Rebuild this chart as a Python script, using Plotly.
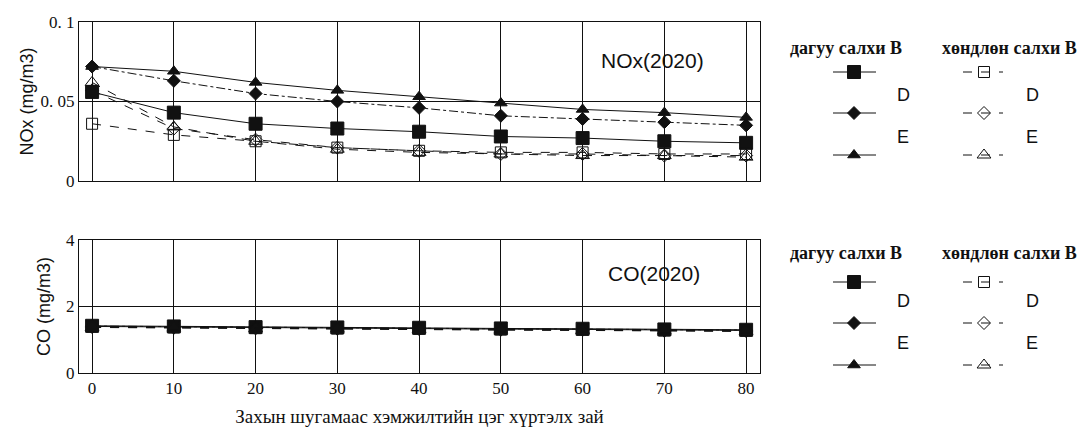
import plotly.graph_objects as go

dist = [0, 10, 20, 30, 40, 50, 60, 70, 80]

# NOx (mg/m3), 2020
nox_along_D_sq = [0.056, 0.043, 0.036, 0.033, 0.031, 0.028, 0.027, 0.025, 0.024]
nox_along_D_di = [0.072, 0.063, 0.055, 0.050, 0.046, 0.041, 0.039, 0.037, 0.035]
nox_along_E_tr = [0.072, 0.069, 0.062, 0.057, 0.053, 0.049, 0.045, 0.043, 0.040]
nox_cross_D_sq = [0.036, 0.029, 0.025, 0.021, 0.019, 0.018, 0.018, 0.017, 0.017]
nox_cross_D_di = [0.057, 0.033, 0.026, 0.021, 0.019, 0.017, 0.017, 0.016, 0.016]
nox_cross_E_tr = [0.062, 0.034, 0.025, 0.020, 0.018, 0.017, 0.016, 0.016, 0.015]

# CO (mg/m3), 2020
co_along_D_sq = [1.42, 1.40, 1.38, 1.37, 1.36, 1.34, 1.33, 1.31, 1.30]
co_along_D_di = [1.41, 1.39, 1.37, 1.36, 1.35, 1.33, 1.32, 1.30, 1.29]
co_along_E_tr = [1.40, 1.38, 1.36, 1.35, 1.34, 1.32, 1.31, 1.29, 1.28]
co_cross_D_sq = [1.39, 1.37, 1.35, 1.34, 1.33, 1.31, 1.30, 1.28, 1.27]
co_cross_D_di = [1.38, 1.36, 1.34, 1.33, 1.32, 1.30, 1.29, 1.27, 1.26]
co_cross_E_tr = [1.37, 1.35, 1.33, 1.32, 1.31, 1.29, 1.28, 1.26, 1.25]

x_ticks = [0, 10, 20, 30, 40, 50, 60, 70, 80]
nox_ticks = [0, 0.05, 0.1]
nox_ticktext = ["0", "0. 05", "0. 1"]
co_ticks = [0, 2, 4]
co_ticktext = ["0", "2", "4"]

hdr_along = "дагуу салхи В"
hdr_cross = "хөндлөн салхи В"
x_title = "Захын шугамаас хэмжилтийн цэг хүртэлх зай"

BLK = "#111111"
series_style = [
    # (symbol, size, dash)
    ("square", 13, "solid"),
    ("diamond", 10, "dashdot"),
    ("triangle-up", 11, "solid"),
    ("square-open", 11, "dash"),
    ("diamond-open", 10, "dash"),
    ("triangle-up-open", 12, "dash"),
]

fig = go.Figure()

nox_series = [nox_along_D_sq, nox_along_D_di, nox_along_E_tr,
              nox_cross_D_sq, nox_cross_D_di, nox_cross_E_tr]
co_series = [co_along_D_sq, co_along_D_di, co_along_E_tr,
             co_cross_D_sq, co_cross_D_di, co_cross_E_tr]

for vals, (sym, sz, dash) in zip(nox_series, series_style):
    fig.add_trace(go.Scatter(x=dist, y=vals, xaxis="x", yaxis="y", mode="lines+markers",
                             line=dict(color=BLK, width=1, dash=dash),
                             marker=dict(symbol=sym, size=sz, color=BLK, line=dict(color=BLK, width=1)),
                             showlegend=False))
for vals, (sym, sz, dash) in zip(co_series, series_style):
    fig.add_trace(go.Scatter(x=dist, y=vals, xaxis="x2", yaxis="y2", mode="lines+markers",
                             line=dict(color=BLK, width=1, dash=dash),
                             marker=dict(symbol=sym, size=sz, color=BLK, line=dict(color=BLK, width=1)),
                             showlegend=False))

# legend samples on a window-pixel overlay axis
def legend_block(top):
    rows = [top, top + 41, top + 83]
    cols = [(833, 876, 854), (963, 1003, 984)]
    for ci, (x0, x1, xm) in enumerate(cols):
        for ri, y in enumerate(rows):
            sym, sz, dash = series_style[ci * 3 + ri]
            fig.add_trace(go.Scatter(x=[x0, x1], y=[y, y], xaxis="x3", yaxis="y3", mode="lines",
                                     line=dict(color=BLK, width=1, dash=dash if ci == 1 else "solid"),
                                     showlegend=False, hoverinfo="skip"))
            fig.add_trace(go.Scatter(x=[xm], y=[y], xaxis="x3", yaxis="y3", mode="markers",
                                     marker=dict(symbol=sym, size=sz, color=BLK,
                                                 line=dict(color=BLK, width=1)),
                                     showlegend=False, hoverinfo="skip"))

legend_block(72)
legend_block(282)

grid = dict(showgrid=True, gridcolor=BLK, gridwidth=1, showline=True, linecolor=BLK,
            linewidth=1, mirror=True, zeroline=False, ticks="", automargin=False)
serif = "Liberation Serif"
sans = "Liberation Sans"

# page body has an 8px margin: figure occupies window pixels 8..1091 x 8..430
W, H, OFF = 1083, 422, 8
def xdom(a, b):
    return [(a - OFF) / W, (b - OFF) / W]
def ydom(top, bottom):
    return [1 - (bottom - OFF) / H, 1 - (top - OFF) / H]

fig.update_layout(
    width=W, height=H,
    margin=dict(l=0, r=0, t=0, b=0, pad=0),
    paper_bgcolor="white", plot_bgcolor="rgba(0,0,0,0)",
    xaxis=dict(domain=xdom(79, 760), range=[-1.6, 81.7], tickvals=x_ticks,
               showticklabels=False, anchor="y", **grid),
    yaxis=dict(domain=ydom(22, 181), range=[0, 0.1], tickvals=nox_ticks, ticktext=nox_ticktext,
               tickfont=dict(family=serif, size=17, color=BLK), anchor="x",
               title=dict(text="NOx (mg/m3)", font=dict(family=sans, size=18, color=BLK), standoff=2),
               **grid),
    xaxis2=dict(domain=xdom(79, 760), range=[-1.6, 81.7], tickvals=x_ticks,
                tickfont=dict(family=serif, size=17, color=BLK), anchor="y2",
                title=dict(text=x_title, font=dict(family=serif, size=19, color=BLK), standoff=12),
                **grid),
    yaxis2=dict(domain=ydom(240, 373), range=[0, 4], tickvals=co_ticks, ticktext=co_ticktext,
                tickfont=dict(family=serif, size=17, color=BLK), anchor="x2",
                title=dict(text="CO (mg/m3)", font=dict(family=sans, size=18, color=BLK), standoff=10),
                **grid),
    xaxis3=dict(domain=[0, 1], range=[OFF, OFF + W], visible=False, anchor="y3", fixedrange=True,
                automargin=False),
    yaxis3=dict(domain=[0, 1], range=[OFF + H, OFF], visible=False, anchor="x3", fixedrange=True,
                automargin=False),
    showlegend=False,
)

ann = []
ann.append(dict(text="NOx(2020)", x=652, y=60, font=dict(family=sans, size=21, color=BLK)))
ann.append(dict(text="CO(2020)", x=654, y=273, font=dict(family=sans, size=21, color=BLK)))
for top in (48, 253):
    ann.append(dict(text="<b>" + hdr_along + "</b>", x=846, y=top,
                    font=dict(family=serif, size=18, color=BLK)))
    ann.append(dict(text="<b>" + hdr_cross + "</b>", x=1009, y=top,
                    font=dict(family=serif, size=18, color=BLK)))
for dy in (95, 301):
    ann.append(dict(text="D", x=903, y=dy, font=dict(family=sans, size=18, color=BLK)))
    ann.append(dict(text="D", x=1032, y=dy, font=dict(family=sans, size=18, color=BLK)))
for ey in (137, 343):
    ann.append(dict(text="E", x=903, y=ey, font=dict(family=sans, size=18, color=BLK)))
    ann.append(dict(text="E", x=1032, y=ey, font=dict(family=sans, size=18, color=BLK)))
for a in ann:
    a.update(xref="x3", yref="y3", showarrow=False, xanchor="center", yanchor="middle")
fig.update_layout(annotations=ann)

fig.write_html("out.html")
